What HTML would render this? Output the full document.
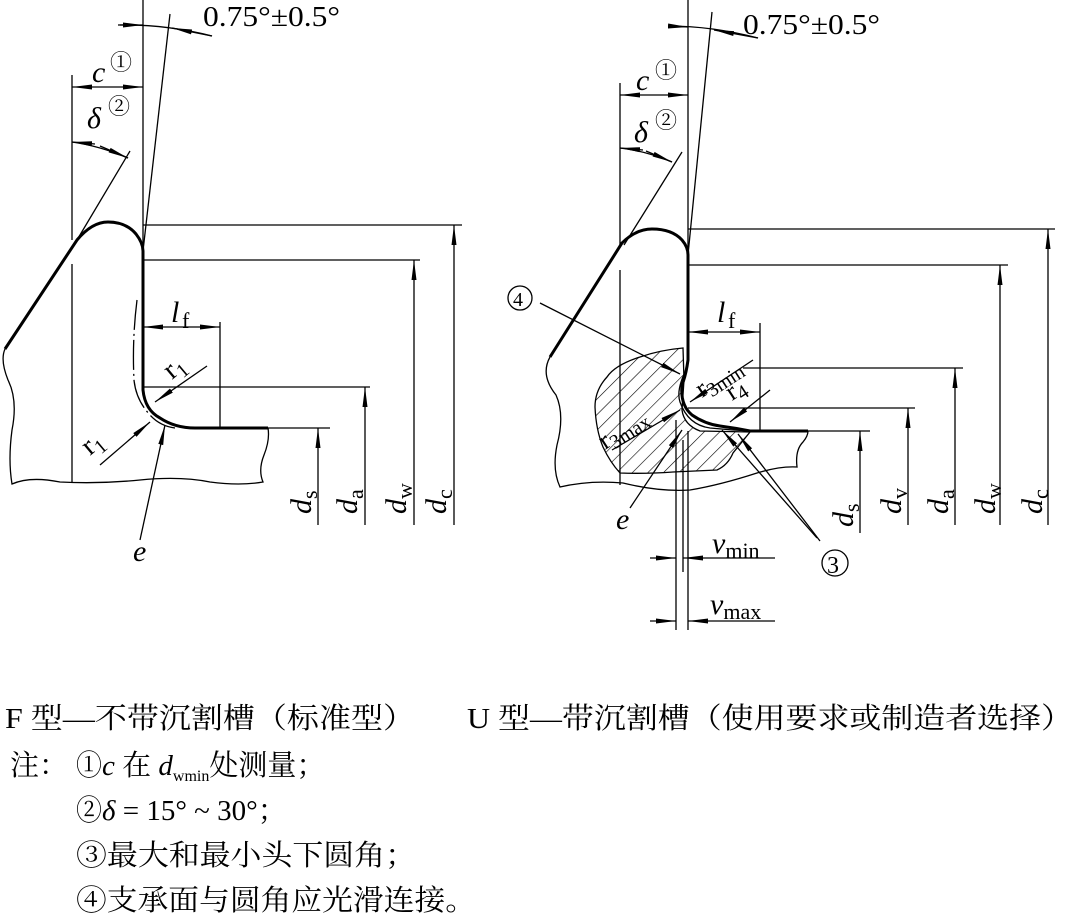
<!DOCTYPE html>
<html><head><meta charset="utf-8"><style>
html,body{margin:0;padding:0;background:#fff;}
svg{display:block}
text{font-family:"Liberation Serif","Noto Serif CJK SC",serif;fill:#000}
</style></head><body>
<svg width="1076" height="914" viewBox="0 0 1076 914" xmlns="http://www.w3.org/2000/svg">
<defs>
<marker id="a" viewBox="0 0 20 6" refX="20" refY="3" markerWidth="20" markerHeight="6" markerUnits="userSpaceOnUse" orient="auto"><path d="M0,0.5 L20,3 L0,5.5 Z" fill="#000"/></marker>
<pattern id="h" patternUnits="userSpaceOnUse" width="11" height="11" patternTransform="rotate(45)"><line x1="0" y1="0" x2="0" y2="11" stroke="#000" stroke-width="1.2"/></pattern>
</defs>
<g fill="none" stroke="#000" stroke-width="1.3">
<line x1="143" y1="0" x2="143" y2="251"/>
<line x1="170" y1="14" x2="143" y2="251"/>
<path d="M118,25 Q165,24 212,36"/>
<line x1="120" y1="25" x2="143" y2="25" marker-end="url(#a)"/>
<line x1="212" y1="36" x2="172" y2="28" marker-end="url(#a)"/>
<line x1="72" y1="75" x2="72" y2="240"/>
<line x1="72" y1="264" x2="72" y2="482"/>
<line x1="108" y1="87" x2="72" y2="87" marker-end="url(#a)"/>
<line x1="108" y1="87" x2="143" y2="87" marker-end="url(#a)"/>
<path d="M72,142 Q100,146 128,158"/>
<line x1="95" y1="144" x2="72" y2="142" marker-end="url(#a)"/>
<line x1="100" y1="146" x2="128" y2="158" marker-end="url(#a)"/>
<line x1="130" y1="151" x2="77" y2="240"/>
<path d="M5,349 Q0,360 8,380 Q18,400 12,430 Q8,460 12,484 Q30,476 60,482 Q100,484 140,480 Q180,476 210,482 Q240,486 263,482 Q258,470 264,455 Q270,440 268,428"/>
<line x1="143" y1="225" x2="462" y2="225"/>
<line x1="454" y1="525" x2="454" y2="225" marker-end="url(#a)"/>
<line x1="143" y1="260" x2="420" y2="260"/>
<line x1="414" y1="525" x2="414" y2="260" marker-end="url(#a)"/>
<line x1="143" y1="387" x2="370" y2="387"/>
<line x1="365" y1="525" x2="365" y2="387" marker-end="url(#a)"/>
<line x1="268" y1="428" x2="330" y2="428"/>
<line x1="318" y1="525" x2="318" y2="428" marker-end="url(#a)"/>
<line x1="220" y1="322" x2="220" y2="428"/>
<line x1="180" y1="327" x2="143" y2="327" marker-end="url(#a)"/>
<line x1="180" y1="327" x2="220" y2="327" marker-end="url(#a)"/>
<path d="M137,300 Q132,340 134,380 Q136,400 150,415 Q160,426 175,428" stroke-dasharray="30,4,2,4"/>
<line x1="207" y1="366" x2="155" y2="402" marker-end="url(#a)"/>
<line x1="100" y1="465" x2="150" y2="422" marker-end="url(#a)"/>
<line x1="140" y1="540" x2="165" y2="425" marker-end="url(#a)"/>
</g>
<g fill="none" stroke="#000" stroke-width="3">
<path d="M5,349 L77,240 Q92,222 108,222 Q126,222 136,234 Q143,243 143,251 L143,390 Q145,410 160,418 Q175,428 195,428 L268,428"/>
</g>
<path d="M683,348 Q660,350 640,357 Q615,365 607,377 Q595,390 595,407 Q596,430 603,447 Q610,462 620,473 Q645,474 673,472 L717,470 Q728,465 733,453 L750,432 L700,431 Q684,425 682,410 L684,380 Z" fill="url(#h)" stroke="#000" stroke-width="1.3"/>
<g fill="none" stroke="#000" stroke-width="1.3">
<line x1="688" y1="0" x2="688" y2="255"/>
<line x1="712" y1="12" x2="688" y2="255"/>
<path d="M668,26 Q712,26 758,38"/>
<line x1="668" y1="26" x2="688" y2="27" marker-end="url(#a)"/>
<line x1="758" y1="38" x2="714" y2="30" marker-end="url(#a)"/>
<line x1="620" y1="83" x2="620" y2="247"/>
<line x1="620" y1="270" x2="620" y2="485"/>
<line x1="654" y1="95" x2="620" y2="95" marker-end="url(#a)"/>
<line x1="654" y1="95" x2="688" y2="95" marker-end="url(#a)"/>
<path d="M620,148 Q646,151 672,162"/>
<line x1="643" y1="150" x2="620" y2="148" marker-end="url(#a)"/>
<line x1="646" y1="151" x2="672" y2="162" marker-end="url(#a)"/>
<line x1="682" y1="152" x2="624" y2="245"/>
<path d="M550,357 Q540,375 556,395 Q565,415 557,445 Q552,470 560,487 Q590,480 623,483 Q660,492 690,490 Q720,485 757,473 Q780,466 797,467 Q795,450 803,442 Q808,436 808,431"/>
<line x1="688" y1="229" x2="1055" y2="229"/>
<line x1="1048" y1="525" x2="1048" y2="229" marker-end="url(#a)"/>
<line x1="688" y1="265" x2="1008" y2="265"/>
<line x1="1000" y1="525" x2="1000" y2="265" marker-end="url(#a)"/>
<line x1="743" y1="368" x2="963" y2="368"/>
<line x1="955" y1="525" x2="955" y2="368" marker-end="url(#a)"/>
<line x1="688" y1="408" x2="915" y2="408"/>
<line x1="908" y1="525" x2="908" y2="408" marker-end="url(#a)"/>
<line x1="808" y1="431" x2="870" y2="431"/>
<line x1="860" y1="533" x2="860" y2="431" marker-end="url(#a)"/>
<line x1="760" y1="323" x2="760" y2="431"/>
<line x1="724" y1="332" x2="688" y2="332" marker-end="url(#a)"/>
<line x1="724" y1="332" x2="760" y2="332" marker-end="url(#a)"/>
<line x1="676" y1="420" x2="676" y2="630"/>
<line x1="683" y1="440" x2="683" y2="572"/>
<line x1="688" y1="431" x2="688" y2="630"/>
<line x1="650" y1="558" x2="676" y2="558" marker-end="url(#a)"/>
<line x1="775" y1="558" x2="683" y2="558" marker-end="url(#a)"/>
<line x1="650" y1="621" x2="676" y2="621" marker-end="url(#a)"/>
<line x1="775" y1="621" x2="688" y2="621" marker-end="url(#a)"/>
<line x1="817" y1="538" x2="722" y2="430" marker-end="url(#a)"/>
<line x1="820" y1="541" x2="738" y2="434" marker-end="url(#a)"/>
<circle cx="835" cy="563" r="13"/>
<line x1="540" y1="303" x2="680" y2="374" marker-end="url(#a)"/>
<line x1="753" y1="360" x2="690" y2="402" marker-end="url(#a)"/>
<line x1="770" y1="390" x2="730" y2="422" marker-end="url(#a)"/>
<line x1="612" y1="450" x2="680" y2="410" marker-end="url(#a)"/>
<line x1="630" y1="508" x2="682" y2="430" marker-end="url(#a)"/>
<path d="M686,370 Q676,390 680,402 Q688,425 710,428 Q730,430 750,431"/>
<circle cx="520" cy="298" r="12"/>
</g>
<g fill="none" stroke="#000" stroke-width="3">
<path d="M550,357 L622,243 Q636,229 652,229 Q672,229 682,240 Q688,247 688,255 L688,360 Q686,375 682,385 Q680,405 692,415 Q705,424 720,426 Q735,428 750,431 L808,431"/>
</g>
<g font-size="28">
<text x="203" y="26" textLength="137" lengthAdjust="spacingAndGlyphs">0.75°±0.5°</text>
<text x="743" y="34" textLength="137" lengthAdjust="spacingAndGlyphs">0.75°±0.5°</text>
<text x="92" y="82" font-style="italic" font-size="30">c</text><text x="110" y="70" font-size="22">①</text>
<text x="87" y="128" font-style="italic" font-size="30">δ</text><text x="108" y="114" font-size="22">②</text>
<text x="636" y="90" font-style="italic" font-size="30">c</text><text x="655" y="78" font-size="22">①</text>
<text x="634" y="142" font-style="italic" font-size="30">δ</text><text x="655" y="128" font-size="22">②</text>
<text x="171" y="322" font-style="italic" font-size="30">l</text><text x="182" y="328" font-size="22">f</text>
<text x="717" y="322" font-style="italic" font-size="30">l</text><text x="728" y="328" font-size="22">f</text>
<text transform="translate(172,380) rotate(-40)">r<tspan font-size="20" dy="6">1</tspan></text>
<text transform="translate(90,456) rotate(-40)">r<tspan font-size="20" dy="6">1</tspan></text>
<text x="133" y="561" font-style="italic" font-size="30">e</text>
<text x="616" y="529" font-style="italic" font-size="30">e</text>
<text x="513" y="306" font-size="20">4</text>
<text x="827" y="573" font-size="24">3</text>
<text transform="translate(702,398) rotate(-33)" font-size="26">r<tspan font-size="20" dy="5">3min</tspan></text>
<text transform="translate(732,401) rotate(-33)" font-size="26">r<tspan font-size="20" dy="5">4</tspan></text>
<text transform="translate(605,450) rotate(-33)" font-size="26">r<tspan font-size="20" dy="5">3max</tspan></text>
<text x="712" y="553" font-style="italic" font-size="30">v<tspan font-style="normal" font-size="22" dy="5">min</tspan></text>
<text x="710" y="614" font-style="italic" font-size="30">v<tspan font-style="normal" font-size="22" dy="5">max</tspan></text>
<g font-style="italic" font-size="30">
<text transform="translate(311,514) rotate(-90)">d<tspan font-style="normal" font-size="22" dy="6">s</tspan></text>
<text transform="translate(357,514) rotate(-90)">d<tspan font-style="normal" font-size="22" dy="6">a</tspan></text>
<text transform="translate(406,514) rotate(-90)">d<tspan font-style="normal" font-size="22" dy="6">w</tspan></text>
<text transform="translate(446,514) rotate(-90)">d<tspan font-style="normal" font-size="22" dy="6">c</tspan></text>
<text transform="translate(853,527) rotate(-90)">d<tspan font-style="normal" font-size="22" dy="6">s</tspan></text>
<text transform="translate(901,514) rotate(-90)">d<tspan font-style="normal" font-size="22" dy="6">v</tspan></text>
<text transform="translate(948,514) rotate(-90)">d<tspan font-style="normal" font-size="22" dy="6">a</tspan></text>
<text transform="translate(995,514) rotate(-90)">d<tspan font-style="normal" font-size="22" dy="6">w</tspan></text>
<text transform="translate(1042,514) rotate(-90)">d<tspan font-style="normal" font-size="22" dy="6">c</tspan></text>
</g>
</g>
<g font-size="29">
<text x="5" y="728" textLength="410" lengthAdjust="spacingAndGlyphs">F 型—不带沉割槽（标准型）</text>
<text x="467" y="728" textLength="606" lengthAdjust="spacingAndGlyphs">U 型—带沉割槽（使用要求或制造者选择）</text>
<text x="10" y="775" textLength="58" lengthAdjust="spacingAndGlyphs">注：</text>
<text x="76" y="775" textLength="26" lengthAdjust="spacingAndGlyphs">①</text>
<text x="102" y="775"><tspan font-style="italic">c</tspan> 在 <tspan font-style="italic">d</tspan><tspan font-size="16" dy="6">wmin</tspan><tspan dy="-6">处测量；</tspan></text>
<text x="76" y="820" textLength="26" lengthAdjust="spacingAndGlyphs">②</text>
<text x="102" y="820"><tspan font-style="italic">δ</tspan> = 15° ~ 30°；</text>
<text x="76" y="865" textLength="340" lengthAdjust="spacingAndGlyphs">③最大和最小头下圆角；</text>
<text x="76" y="910" textLength="400" lengthAdjust="spacingAndGlyphs">④支承面与圆角应光滑连接。</text>
</g>
</svg>
</body></html>
